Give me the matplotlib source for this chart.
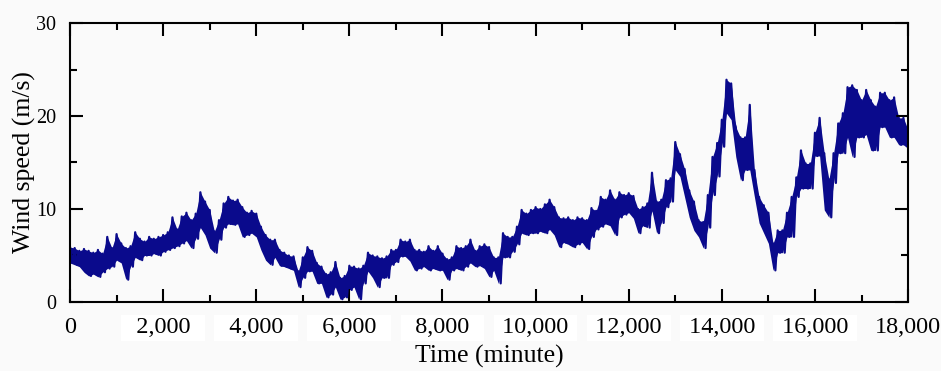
import matplotlib
matplotlib.use('Agg')
import matplotlib.pyplot as plt
import numpy as np

# time grid of the readings (minutes), one reading every 100 min
t_step = 100
t_end = 18000

# upper edge of the noisy band (m/s)
wind_hi = [
    5.9, 5.8, 5.5, 5.7, 5.5, 5.3, 5.6, 5.2, 7.0, 5.8,
    7.3, 6.3, 5.8, 6.0, 7.5, 6.8, 6.5, 7.0, 6.8, 7.0,
    7.2, 7.5, 9.1, 7.8, 9.2, 9.6, 8.8, 9.5, 11.8, 10.8,
    9.9, 7.6, 8.8, 10.6, 11.3, 10.9, 11.0, 10.2, 9.6, 9.8,
    9.5, 8.1, 7.2, 6.7, 6.7, 5.6, 5.3, 5.0, 4.9, 3.3,
    4.8, 5.9, 5.5, 4.2, 3.8, 3.0, 3.2, 4.3, 2.6, 2.8,
    3.9, 3.8, 3.6, 3.9, 5.3, 5.0, 4.9, 4.7, 4.9, 5.6,
    5.6, 6.7, 6.5, 6.7, 5.6, 5.6, 5.4, 6.0, 5.5, 6.0,
    5.2, 4.6, 4.8, 6.0, 5.8, 6.0, 6.7, 5.5, 6.0, 6.2,
    5.9, 4.8, 4.8, 7.4, 7.0, 7.0, 8.1, 9.9, 9.5, 9.9,
    10.2, 10.0, 10.5, 11.0, 10.2, 9.1, 9.0, 9.1, 8.8, 9.1,
    9.0, 8.8, 10.1, 9.8, 11.3, 11.0, 12.0, 11.0, 11.8, 11.5,
    11.7, 11.4, 10.0, 10.2, 10.6, 13.9, 10.8, 11.0, 13.1, 13.3,
    17.2, 15.9, 14.3, 12.0, 10.8, 8.8, 8.6, 11.5, 15.6, 17.1,
    19.6, 23.9, 23.5, 18.8, 17.7, 17.7, 21.2, 14.2, 11.3, 10.4,
    9.6, 6.3, 7.7, 7.7, 9.6, 11.3, 13.4, 16.3, 14.9, 14.9,
    18.2, 19.8, 16.0, 13.2, 16.0, 19.2, 20.3, 23.1, 23.3, 22.8,
    21.7, 22.8, 21.7, 21.0, 22.5, 22.5, 21.7, 22.0, 19.8, 19.8,
    18.5,
]

# lower edge of the noisy band (m/s)
wind_lo = [
    4.2, 4.0, 3.8, 3.2, 2.8, 3.0, 2.7, 3.2, 3.6, 3.8,
    4.5, 4.2, 2.4, 3.8, 4.8, 4.5, 5.0, 5.0, 5.2, 5.0,
    5.4, 5.6, 5.8, 6.0, 6.3, 6.6, 5.8, 6.8, 8.0, 7.2,
    5.8, 5.3, 6.7, 8.0, 8.4, 8.3, 8.4, 7.0, 7.2, 7.4,
    7.0, 5.6, 4.5, 4.0, 4.8, 3.9, 3.8, 3.6, 3.4, 1.6,
    2.6, 3.3, 3.3, 2.0, 2.0, 0.5, 0.8, 1.6, 0.3, 0.5,
    1.3, 1.6, 0.3, 2.0, 3.3, 2.6, 1.6, 2.6, 2.6, 4.0,
    4.3, 4.9, 4.9, 4.4, 3.4, 3.6, 3.8, 3.4, 3.6, 3.4,
    3.4, 2.4, 3.4, 3.6, 3.4, 3.8, 4.2, 3.8, 3.9, 3.6,
    2.7, 3.4, 2.0, 4.8, 4.8, 5.4, 6.2, 7.4, 7.2, 7.4,
    7.4, 7.6, 7.4, 7.8, 7.2, 5.9, 6.4, 6.2, 5.9, 6.2,
    6.4, 5.7, 7.0, 7.8, 8.1, 8.4, 8.2, 7.2, 9.1, 9.4,
    9.6, 9.0, 7.4, 8.2, 8.0, 9.8, 7.4, 8.5, 10.2, 10.8,
    14.2, 13.5, 11.3, 9.1, 7.7, 7.0, 5.8, 8.0, 11.5, 13.5,
    16.7, 20.3, 19.6, 15.6, 13.1, 14.2, 14.2, 11.3, 8.5, 7.4,
    6.3, 3.4, 5.3, 5.3, 7.0, 7.0, 11.3, 12.2, 12.2, 12.2,
    15.7, 15.7, 9.9, 9.1, 12.8, 16.0, 16.0, 17.7, 15.6, 17.7,
    17.7, 18.0, 16.3, 16.3, 18.8, 18.8, 17.7, 17.7, 16.9, 16.9,
    16.5,
]

xticks = [0, 2000, 4000, 6000, 8000, 10000, 12000, 14000, 16000, 18000]
xtick_labels = ['0', '2,000', '4,000', '6,000', '8,000', '10,000',
                '12,000', '14,000', '16,000', '18,000']
yticks = [0, 10, 20, 30]

plt.rcParams['font.family'] = ['Liberation Serif', 'DejaVu Serif']
bg = '#fafafa'
navy = '#0a0a8c'

fig = plt.figure(figsize=(9.41, 3.71), dpi=100, facecolor=bg)
ax = fig.add_axes([0.0744, 0.186, 0.8906, 0.752], facecolor=bg)

# readings alternate between the upper and lower edge of the band
t = np.arange(0, t_end + 1, t_step)
tt = np.column_stack([t, t + t_step / 2]).ravel()[:-1]
ww = np.column_stack([wind_hi, wind_lo]).ravel()[:-1]
ax.fill_between(t, wind_lo, wind_hi, color=navy, lw=0)
ax.plot(tt, ww, color=navy, lw=1.6)

ax.set_xlim(0, 18000)
ax.set_ylim(0, 30)
ax.set_xticks(xticks)
ax.set_xticks(np.arange(1000, 18000, 2000), minor=True)
ax.set_yticks(yticks)
ax.set_yticks([5, 15, 25], minor=True)

# white boxes of equal width behind the inner tick labels
labels = []
for s in xtick_labels:
    sp = '  ' if len(s) == 5 else ' '
    labels.append(sp + s + sp)
labels[0] = xtick_labels[0]
labels[-1] = xtick_labels[-1]
ax.set_xticklabels(labels, fontsize=17.5)
for lab in ax.get_xticklabels()[1:-1]:
    lab.set_bbox(dict(facecolor='white', edgecolor='none', pad=2))
ax.set_yticklabels([str(v) for v in yticks], fontsize=14.5)

ax.tick_params(which='both', direction='in', top=True, right=True, width=1.5)
ax.tick_params(which='major', length=9.5)
ax.tick_params(which='minor', length=5)
ax.tick_params(axis='x', pad=11)
ax.tick_params(axis='y', pad=10)
for s in ax.spines.values():
    s.set_linewidth(1.5)

ax.set_xlabel('Time (minute)', fontsize=18.5, labelpad=5)
ax.set_ylabel('Wind speed (m/s)', fontsize=18.5)
ax.yaxis.set_label_coords(-0.040, 0.5)

fig.savefig('out.png', dpi=100, facecolor=bg)
